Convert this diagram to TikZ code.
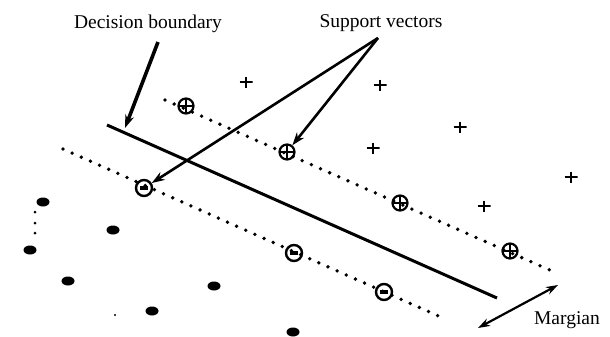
\documentclass[tikz,border=0pt]{standalone}
\usepackage{fontspec}
\setmainfont{Liberation Serif}
\usepackage{tikz}
\usetikzlibrary{shapes.geometric, arrows.meta, positioning, calc}
\tikzstyle{label} = [font=\fontsize{19.5}{21}\selectfont, inner sep=0pt, anchor=base]
\tikzstyle{posvec} = [circle, draw=black, line width=2.2pt, minimum size=15pt, inner sep=0pt, path picture={\draw[line width=2.2pt] (path picture bounding box.north) -- (path picture bounding box.south) (path picture bounding box.west) -- (path picture bounding box.east);}]
\tikzstyle{negvec} = [circle, draw=black, line width=2.4pt, minimum size=16pt, inner sep=0pt, path picture={\draw[line width=4.5pt] ([xshift=-4pt]path picture bounding box.center) -- ([xshift=4pt]path picture bounding box.center);}]
\tikzstyle{posmark} = [minimum width=13pt, minimum height=11pt, inner sep=0pt, path picture={\draw[line width=2.4pt] (path picture bounding box.north) -- (path picture bounding box.south) (path picture bounding box.west) -- (path picture bounding box.east);}]
\tikzstyle{negmark} = [ellipse, fill=black, minimum width=13pt, minimum height=9pt, inner sep=0pt]
\tikzstyle{margline} = [line width=3.8pt, line cap=round, dash pattern=on 0pt off 10pt]
\tikzstyle{arrow} = [line width=2.6pt,-{Stealth[length=13pt,width=9pt]}]

\begin{document}
\begin{tikzpicture}[x=1pt, y=-1pt]
        \useasboundingbox (0,0) rectangle (610,337);
        % labels
        \node (dblabel) [label] at (148,29) {Decision boundary};
        \node (svlabel) [label] at (381,28) {Support vectors};
        \node (mglabel) [label] at (567,324) {Margian};

        % boundary and margins
        \coordinate (db1) at (107,125);
        \coordinate (db2) at (497,298);
        \coordinate (up1) at (165,100);
        \coordinate (up2) at (552,271);
        \coordinate (lo1) at (63,149);
        \coordinate (lo2) at (443,318);
        \draw [line width=3pt] (db1) -- (db2);
        \draw [margline] (up1) -- (up2);
        \draw [margline] (lo1) -- (lo2);

        % support vectors
        \node (sp1) [posvec] at (186,106) {};
        \node (sp2) [posvec] at (287,152) {};
        \node (sp3) [posvec] at (400,203) {};
        \node (sp4) [posvec] at (510,251) {};
        \node (sn1) [negvec] at (144,188) {};
        \node (sn2) [negvec] at (294,253) {};
        \node (sn3) [negvec] at (384,292) {};

        % positive class
        \node (p1) [posmark] at (246,82) {};
        \node (p2) [posmark] at (380,85) {};
        \node (p3) [posmark] at (460,127) {};
        \node (p4) [posmark] at (373,148) {};
        \node (p5) [posmark] at (484,206) {};
        \node (p6) [posmark] at (571,177) {};

        % negative class
        \node (n1) [negmark] at (43,202) {};
        \node (n2) [negmark] at (113,230) {};
        \node (n3) [negmark] at (30,250) {};
        \node (n4) [negmark] at (68,281) {};
        \node (n5) [negmark] at (214,286) {};
        \node (n6) [negmark] at (152,311) {};
        \node (n7) [negmark] at (293,332) {};
        \foreach \y in {212,223,233}
            \fill (35,\y) circle (1.5pt);
        \fill (115,315) circle (1.2pt);

        % pointers
        \coordinate (dbtail) at (158,42);
        \coordinate (dbhead) at (125,128);
        \coordinate (svtail) at (378,38);
        \coordinate (mga) at (478,328);
        \coordinate (mgb) at (558,285);
        \draw [arrow, line width=3.6pt] (dbtail) -- (dbhead);
        \draw [arrow] (svtail) -- (sp2);
        \draw [arrow] (svtail) -- (sn1);
        \draw [arrow, {Stealth[length=12pt,width=8pt]}-{Stealth[length=12pt,width=8pt]}, line width=2.2pt] (mga) -- (mgb);
    \end{tikzpicture}
\end{document}
